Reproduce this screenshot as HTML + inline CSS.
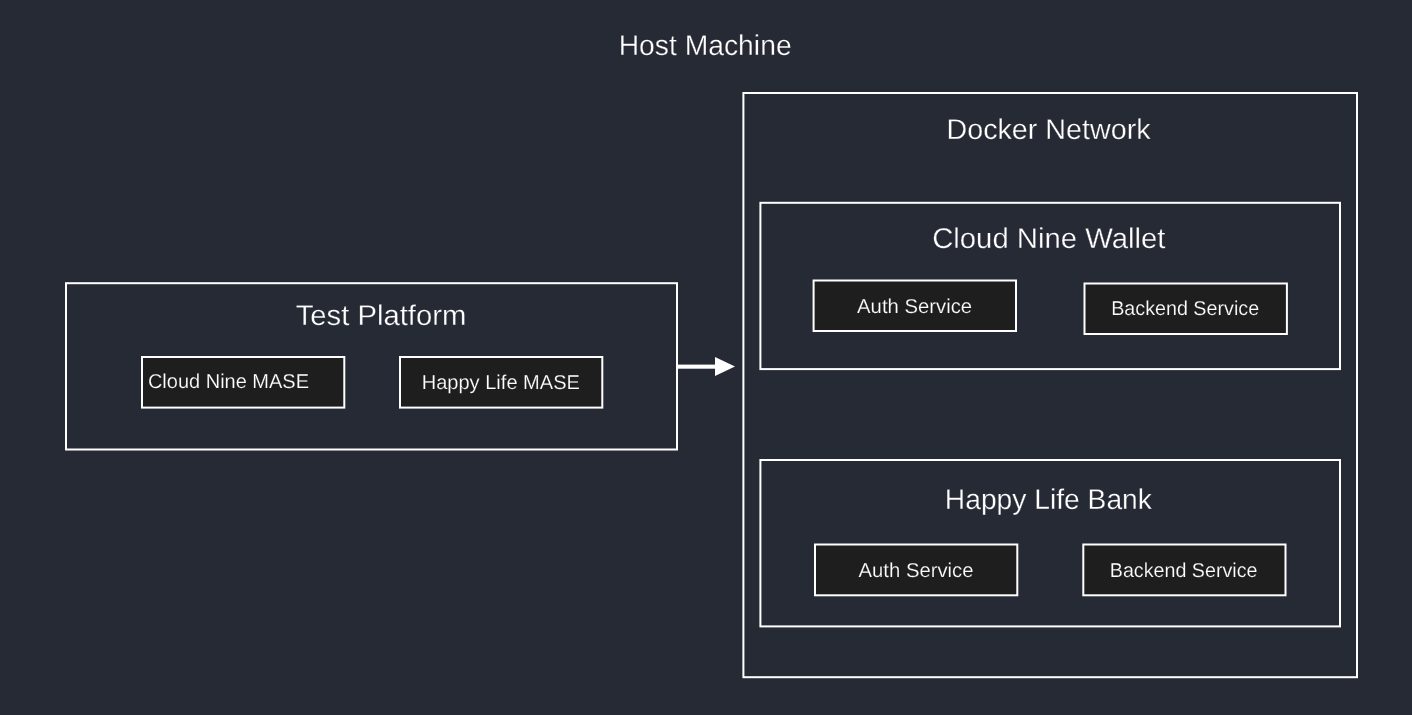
<!DOCTYPE html>
<html>
<head>
<meta charset="utf-8">
<style>
html,body{margin:0;padding:0;background:#262a35;width:1412px;height:715px;overflow:hidden;}
svg{display:block;will-change:transform;}
text{font-family:"Liberation Sans",sans-serif;text-rendering:geometricPrecision;}
.big{font-size:28.5px;fill:#ffffff;stroke:#262a35;stroke-width:0.3px;}
.sm{font-size:20px;fill:#ffffff;stroke:#1e1e1e;stroke-width:0.2px;}
</style>
</head>
<body>
<svg width="1412" height="715" viewBox="0 0 1412 715">
<rect x="0" y="0" width="1412" height="715" fill="#262a35"/>
<g fill="none" stroke="#ffffff" stroke-width="2">
<rect x="66" y="283.2" width="611" height="166.3"/>
<rect x="743.4" y="93" width="613.6" height="584.2"/>
<rect x="760.4" y="202.8" width="579.6" height="166.3"/>
<rect x="760.4" y="460" width="579.6" height="166.4"/>
</g>
<g fill="#1e1e1e" stroke="#ffffff" stroke-width="2">
<rect x="142" y="357" width="202.3" height="50.6"/>
<rect x="400" y="357" width="202.3" height="50.6"/>
<rect x="813.6" y="280.5" width="202.4" height="50.5"/>
<rect x="1084.5" y="283.5" width="202.4" height="50.5"/>
<rect x="815" y="544.5" width="202.3" height="50.8"/>
<rect x="1083.3" y="544.5" width="202.2" height="50.8"/>
</g>
<rect x="678" y="364.6" width="37.5" height="4.1" fill="#ffffff"/>
<polygon points="715,357 715,376 735,366.5" fill="#ffffff"/>
<text class="big" x="618.66" y="55.00" textLength="172.96" lengthAdjust="spacingAndGlyphs">Host Machine</text>
<text class="big" x="946.48" y="139.00" textLength="204.06" lengthAdjust="spacingAndGlyphs">Docker Network</text>
<text class="big" x="295.67" y="325.00" textLength="170.69" lengthAdjust="spacingAndGlyphs">Test Platform</text>
<text class="big" x="932.15" y="248.00" textLength="233.35" lengthAdjust="spacingAndGlyphs">Cloud Nine Wallet</text>
<text class="big" x="944.85" y="509.00" textLength="207.05" lengthAdjust="spacingAndGlyphs">Happy Life Bank</text>
<text class="sm" x="147.88" y="388.00" textLength="161.18" lengthAdjust="spacingAndGlyphs">Cloud Nine MASE</text>
<text class="sm" x="421.71" y="389.00" textLength="158.22" lengthAdjust="spacingAndGlyphs">Happy Life MASE</text>
<text class="sm" x="857.10" y="313.00" textLength="114.99" lengthAdjust="spacingAndGlyphs">Auth Service</text>
<text class="sm" x="1111.16" y="315.00" textLength="147.97" lengthAdjust="spacingAndGlyphs">Backend Service</text>
<text class="sm" x="858.53" y="577.00" textLength="115.02" lengthAdjust="spacingAndGlyphs">Auth Service</text>
<text class="sm" x="1109.79" y="577.00" textLength="147.72" lengthAdjust="spacingAndGlyphs">Backend Service</text>
</svg>
</body>
</html>
